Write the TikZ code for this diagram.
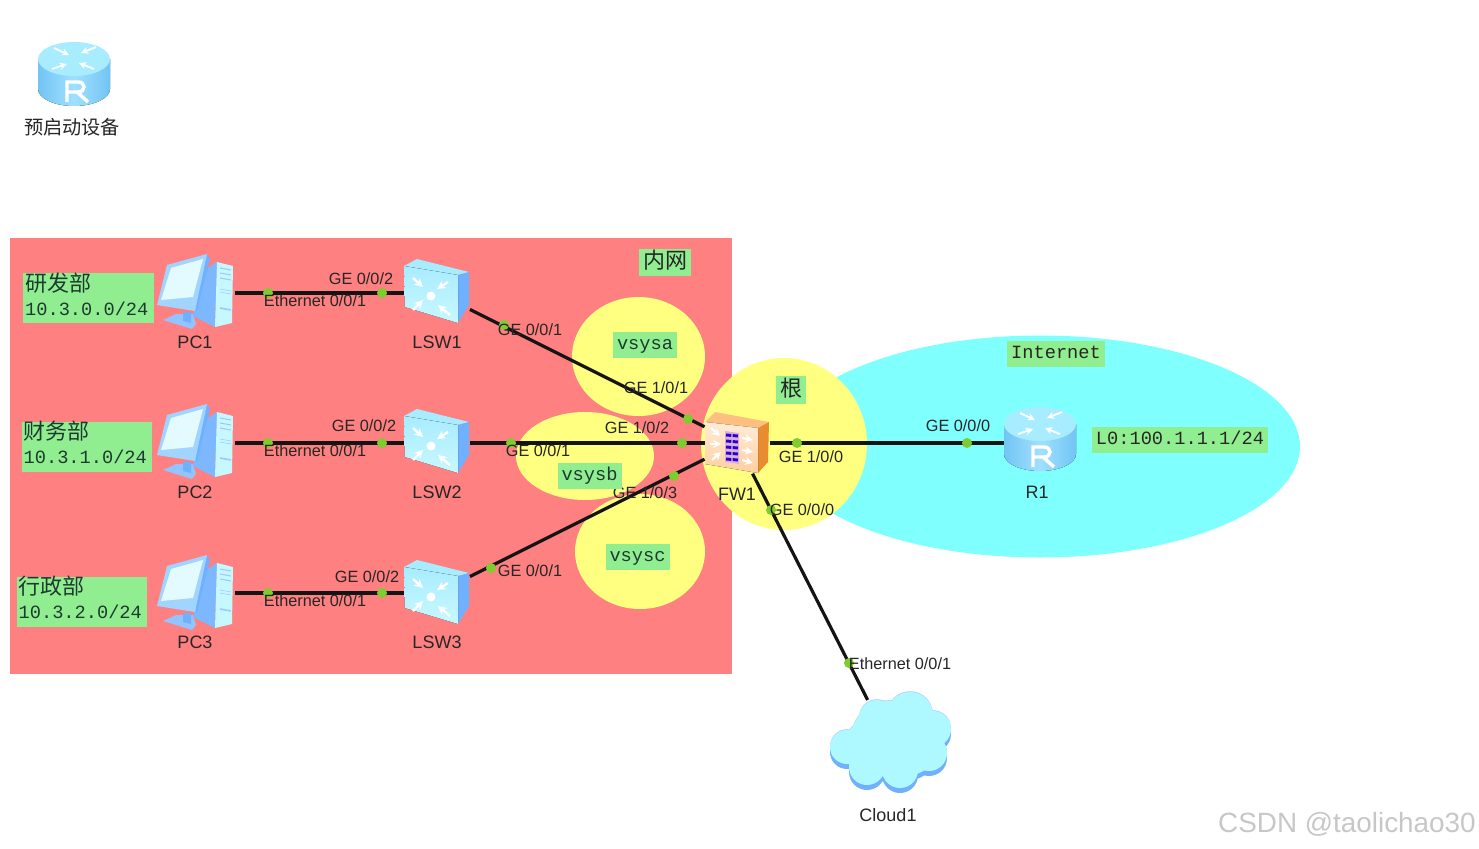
\documentclass[tikz,border=0pt]{standalone}
\usepackage{fontspec}
\setmainfont{Liberation Sans}
\setmonofont{Liberation Mono}
\newfontfamily\cjk{Noto Sans CJK SC}
\usepackage{tikz}
\usetikzlibrary{shapes.geometric}

\definecolor{lanred}{HTML}{FF8080}
\definecolor{vsysyellow}{HTML}{FFFF80}
\definecolor{netcyan}{HTML}{80FFFF}
\definecolor{taggreen}{HTML}{90EE90}
\definecolor{portgreen}{HTML}{7FCC2E}
\definecolor{tagtext}{HTML}{1E3A30}
\definecolor{iconblue}{HTML}{6FB0FF}
\definecolor{iconlight}{HTML}{C8F8FF}
\definecolor{routerside}{HTML}{72C4F4}
\definecolor{routermid}{HTML}{A0E0FF}
\definecolor{routertop}{HTML}{A8ECFF}
\definecolor{cloudbody}{HTML}{AEF8FF}

\tikzset{
    devicenode/.style={inner sep=0pt, outer sep=0pt, rectangle},
    devicename/.style={inner sep=0pt, font=\fontsize{13.5}{15}\selectfont, text=black!85},
    portname/.style={inner sep=0pt, font=\fontsize{12.2}{13}\selectfont, text=black!85},
    portdot/.style={circle, fill=portgreen, inner sep=0pt, minimum size=7.5pt},
    link/.style={line width=2.4pt, black!92},
    zone/.style={inner sep=0pt},
    tagbox/.style={fill=taggreen, inner sep=0pt, minimum height=19.5pt, inner xsep=3pt,
        text height=10pt, text depth=3pt,
        font=\ttfamily\fontsize{14}{16}\selectfont, text=tagtext},
    nettag/.style={fill=taggreen, inner sep=0pt, minimum width=98pt, minimum height=37.5pt},
    nettext/.style={inner sep=0pt, text width=95pt, align=left,
        font=\ttfamily\fontsize{14}{19.5}\selectfont, text=tagtext},
    cjktag/.style={fill=taggreen, inner sep=0pt, text height=12.4pt, text depth=3pt,
        font=\cjk\fontsize{16.5}{18}\selectfont, text=black!85},
    pics/routericon/.style={code={
        \fill[left color=routerside, right color=routerside, middle color=routermid]
            (-36,-15) -- (-36,15) arc[start angle=180, end angle=0, x radius=36, y radius=17]
            -- (36,-15) -- cycle;
        \fill[routertop] (0,-15) ellipse[x radius=36, y radius=17];
        \foreach \tipx/\tipy/\endx/\endy in {-5/-19/-20/-26, 5/-11/20/-5, 7/-21/22/-27, -7/-10/-22/-5}
            \draw[white, line width=1.4pt, -stealth] (\endx,\endy) -- (\tipx,\tipy);
        \draw[white, line width=2.6pt] (-7,28) -- (-7,8) -- (4,8)
            .. controls (12,8) and (12,18) .. (4,18) -- (-7,18) (3,18) -- (14,28);
    }},
    pics/switchicon/.style={code={
        \fill[routertop] (-33,-26) -- (-20,-33) -- (32,-20) -- (21,-17) -- cycle;
        \fill[iconblue] (21,-17) -- (32,-20) -- (32,13) -- (21,31) -- cycle;
        \fill[top color=routertop, bottom color=iconlight] (-33,-26) -- (21,-17) -- (21,31) -- (-32,15) -- cycle;
        \fill[white] (-6,4) circle[radius=4.5];
        \foreach \endx/\endy/\tipx/\tipy in {-24/-14/-14/-5, 11/-10/0/-3, -24/18/-14/8, 13/23/1/13}
            \draw[white, line width=1.8pt, -stealth] (\endx,\endy) -- (\tipx,\tipy);
    }},
    pics/pcicon/.style={code={
        % stand
        \fill[iconblue!75!white] (-33,28) -- (-20,22) -- (-3,22) -- (0,32) -- (-4,37) -- cycle;
        \fill[iconblue] (-13,20) -- (-5,20) -- (-5,31) -- (-13,29) -- cycle;
        % tower
        \fill[iconblue!90!white] (-3,24) -- (7,-21) -- (21,-30) -- (19,35) -- cycle;
        \fill[iconlight] (21,-30) -- (37,-26) -- (36,31) -- (19,35) -- cycle;
        \foreach \rowy/\rowline in {-24/.8, -19/.8, -14/.8, -3/.4, 0/.4, 16/1.2}
            \draw[iconblue!70!white, line width=\rowline pt] (24,\rowy) -- (35,\rowy+2);
        % monitor
        \fill[iconblue] (11,-38) -- (14,-33) -- (1,19) -- (-1,19) -- cycle;
        \fill[iconlight!45!iconblue!90!white] (-29,-27) -- (11,-38) -- (-1,19) -- (-39,13) -- cycle;
        \fill[iconlight!50!white] (-25,-24) -- (7,-33) -- (-3,5) -- (-35,8) -- cycle;
    }},
    pics/fwicon/.style={code={
        \fill[orange!50!white] (-32,-21) -- (-22,-31) -- (32,-21) -- (21,-15) -- cycle;
        \fill[orange!62!brown!90!white] (21,-15) -- (32,-21) -- (31,19) -- (21,30) -- cycle;
        \fill[top color=orange!15!white, bottom color=orange!38!white] (-32,-21) -- (21,-15) -- (21,30) -- (-32,21) -- cycle;
        \fill[violet!30!white] (-12,-12) -- (2,-10) -- (2,21) -- (-12,19) -- cycle;
        \foreach \rowy in {-8,-2,4,10,16}
            \draw[blue!65!violet, line width=2.2pt, dash pattern=on 4pt off 1pt] (-11,\rowy) -- (1,\rowy+1);
        \foreach \endx/\endy/\tipx/\tipy in {-26/-15/-17/-7, -27/1/-16/1, -25/17/-16/9, 5/-5/16/-3, 5/7/16/9, 5/17/16/20}
            \draw[white, line width=1.6pt, -stealth] (\endx,\endy) -- (\tipx,\tipy);
    }},
    pics/cloudicon/.style={code={
        \foreach \cx/\cy/\cr in {21/-27/23, -12/-24/18, 44/-13/18, -42/5/17, 40/11/18, -22/25/18, 11/28/18, 0/-3/38, -20/5/26, 20/5/28}
            \fill[iconblue] (\cx,\cy+5) circle[radius=\cr];
        \foreach \cx/\cy/\cr in {21/-27/23, -12/-24/18, 44/-13/18, -42/5/17, 40/11/18, -22/25/18, 11/28/18, 0/-3/38, -20/5/26, 20/5/28}
            \fill[iconblue!60!white] (\cx,\cy-.8) circle[radius=\cr];
        \foreach \cx/\cy/\cr in {21/-27/23, -12/-24/18, 44/-13/18, -42/5/17, 40/11/18, -22/25/18, 11/28/18, 0/-3/38, -20/5/26, 20/5/28}
            \fill[cloudbody] (\cx,\cy) circle[radius=\cr];
    }},
}

\begin{document}
\begin{tikzpicture}[x=0.75pt, y=-0.75pt]
    \useasboundingbox (0,0) rectangle (1479,849);
    % Zones
    \node[zone, fill=lanred, minimum width=541.5pt, minimum height=327pt] (lan) at (371,456) {};
    \node[zone, ellipse, fill=netcyan, minimum width=390pt, minimum height=166.5pt] (internet) at (1040,446.5) {};
    \node[zone, ellipse, fill=vsysyellow, minimum width=99.75pt, minimum height=89.25pt] (vsysa) at (638.5,356.5) {};
    \node[zone, ellipse, fill=vsysyellow, minimum width=103.5pt, minimum height=66pt] (vsysb) at (585,456) {};
    \node[zone, ellipse, fill=vsysyellow, minimum width=97.5pt, minimum height=86.25pt] (vsysc) at (640,551.5) {};
    \node[zone, ellipse, fill=vsysyellow, minimum width=124.5pt, minimum height=129pt] (root) at (784,444) {};

    % Nodes
    \node[devicenode, minimum width=54pt, minimum height=48pt] (boot) at (74,74) {};
    \node[devicenode, minimum width=58.5pt, minimum height=57pt] (pc1) at (196,293) {};
    \node[devicenode, minimum width=58.5pt, minimum height=57pt] (pc2) at (196,443) {};
    \node[devicenode, minimum width=58.5pt, minimum height=57pt] (pc3) at (196,593) {};
    \node[devicenode, minimum width=49.5pt, minimum height=48pt] (lsw1) at (437,293) {};
    \node[devicenode, minimum width=49.5pt, minimum height=48pt] (lsw2) at (437,443) {};
    \node[devicenode, minimum width=49.5pt, minimum height=48pt] (lsw3) at (437,593) {};
    \node[devicenode, minimum width=48.75pt, minimum height=46pt] (fw1) at (737,443) {};
    \node[devicenode, minimum width=54pt, minimum height=48pt] (r1) at (1040,443) {};
    \node[devicenode, minimum width=94pt, minimum height=63pt] (cloud1) at (889,742) {};
    % Icons
    \pic at (74,74) {routericon};
    \pic at (1040,439) {routericon};
    \pic at (196,292) {pcicon};
    \pic at (196,442) {pcicon};
    \pic at (196,593) {pcicon};
    \pic at (437,292) {switchicon};
    \pic at (437,442) {switchicon};
    \pic at (437,593) {switchicon};
    \pic at (737,443) {fwicon};
    \pic at (889,742) {cloudicon};

    % Edges
    \draw[link] (pc1) -- (lsw1);
    \draw[link] (pc2) -- (lsw2);
    \draw[link] (pc3) -- (lsw3);
    \draw[link] (lsw1) -- (fw1);
    \draw[link] (lsw2) -- (fw1);
    \draw[link] (lsw3) -- (fw1);
    \draw[link] (fw1) -- (r1);
    \draw[link] (fw1) -- (cloud1);

    % Ports
    \node[portdot] (p1a) at (268,293) {};
    \node[portdot] (p1b) at (382,293) {};
    \node[portdot] (p2a) at (268,443) {};
    \node[portdot] (p2b) at (382,443) {};
    \node[portdot] (p3a) at (268,593) {};
    \node[portdot] (p3b) at (382,593) {};
    \node[portdot] (p4a) at (504,325) {};
    \node[portdot] (p4b) at (688,419) {};
    \node[portdot] (p5a) at (511,443) {};
    \node[portdot] (p5b) at (682,443) {};
    \node[portdot] (p6a) at (491,568) {};
    \node[portdot] (p6b) at (674,476) {};
    \node[portdot] (p7a) at (797,443) {};
    \node[portdot] (p7b) at (967,443) {};
    \node[portdot] (p8a) at (771,510) {};
    \node[portdot] (p8b) at (849,663) {};

    % Port labels
    \node[portname] (l1a) at (315,301) {Ethernet 0/0/1};
    \node[portname] (l1b) at (361,279) {GE 0/0/2};
    \node[portname] (l2a) at (315,451) {Ethernet 0/0/1};
    \node[portname] (l2b) at (364,426) {GE 0/0/2};
    \node[portname] (l3a) at (315,601) {Ethernet 0/0/1};
    \node[portname] (l3b) at (367,577) {GE 0/0/2};
    \node[portname] (l4a) at (530,330) {GE 0/0/1};
    \node[portname] (l4b) at (656,388) {GE 1/0/1};
    \node[portname] (l5a) at (538,451) {GE 0/0/1};
    \node[portname] (l5b) at (637,428) {GE 1/0/2};
    \node[portname] (l6a) at (530,571) {GE 0/0/1};
    \node[portname] (l6b) at (645,493) {GE 1/0/3};
    \node[portname] (l7a) at (811,457) {GE 1/0/0};
    \node[portname] (l7b) at (958,426) {GE 0/0/0};
    \node[portname] (l8a) at (802,510) {GE 0/0/0};
    \node[portname] (l8b) at (900,664) {Ethernet 0/0/1};

    % Device names
    \node[devicename] (n1) at (195,342) {PC1};
    \node[devicename] (n2) at (195,492) {PC2};
    \node[devicename] (n3) at (195,642) {PC3};
    \node[devicename] (n4) at (437,342) {LSW1};
    \node[devicename] (n5) at (437,492) {LSW2};
    \node[devicename] (n6) at (437,642) {LSW3};
    \node[devicename] (n7) at (737,494) {FW1};
    \node[devicename] (n8) at (1037,492) {R1};
    \node[devicename] (n9) at (888,815) {Cloud1};
    \node[devicename, font=\cjk\fontsize{14.4}{16}\selectfont] (n10) at (72,127) {预启动设备};

    % Tags
    \node[nettag] (t1) at (88.5,298) {};
    \node[nettag] (t2) at (87,446.5) {};
    \node[nettag] (t3) at (82,601.5) {};
    \node[nettext] (t1text) at (88.5,294) {{\cjk\fontsize{16.5}{19.5}\selectfont 研发部}\\[-1.5pt]10.3.0.0/24};
    \node[nettext] (t2text) at (87,442.5) {{\cjk\fontsize{16.5}{19.5}\selectfont 财务部}\\[-1.5pt]10.3.1.0/24};
    \node[nettext] (t3text) at (82,597.5) {{\cjk\fontsize{16.5}{19.5}\selectfont 行政部}\\[-1.5pt]10.3.2.0/24};
    \node[tagbox] (t4) at (645,345) {vsysa};
    \node[tagbox] (t5) at (589.5,475.5) {vsysb};
    \node[tagbox] (t6) at (637.5,556.5) {vsysc};
    \node[tagbox, text=black!85] (t7) at (1056,354) {Internet};
    \node[tagbox, text=black!85, minimum width=132pt] (t8) at (1180,439.5) {L0:100.1.1.1/24};
    \node[cjktag, minimum width=39pt, minimum height=20pt] (t9) at (665,262.5) {内网};
    \node[cjktag, minimum width=22.5pt, minimum height=21pt] (t10) at (791,390) {根};

    % Watermark
    \node[inner sep=0pt, font=\fontsize{20.9}{22}\selectfont, text=black!22] (mark) at (1347,824) {CSDN @taolichao30};
\end{tikzpicture}
\end{document}
